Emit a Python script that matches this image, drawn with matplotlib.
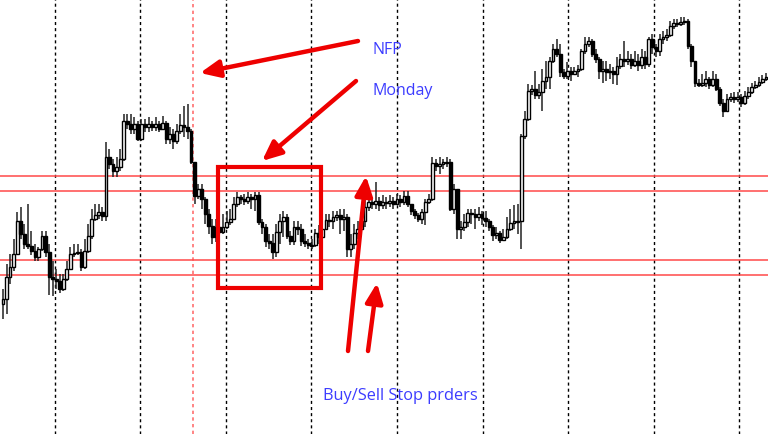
import matplotlib
matplotlib.use("Agg")
import matplotlib.pyplot as plt
import numpy as np
from matplotlib.patches import Rectangle, FancyArrowPatch

# ---- data (price levels expressed in chart pixel rows, smaller = higher price) ----
first_open = 305
close = [300,278,268,255,222,235,245,247,252,258,250,237,253,278,280,282,290,280,270,255,254,253,268,252,237,220,216,213,217,
         158,165,172,168,160,122,125,130,125,140,125,128,125,128,125,130,124,140,135,142,132,126,128,132,163,197,190,200,215,227,238,228,
         233,228,223,220,205,198,200,202,198,200,196,223,228,242,244,253,233,222,218,237,242,228,230,242,244,246,246,234,238,230,221,222,218,216,220,218,250,245,234,230,
         222,208,203,205,202,206,203,204,202,205,200,203,197,205,212,216,220,213,203,200,164,167,165,163,163,210,190,230,228,223,214,215,218,215,219,222,228,236,234,241,238,230,224,222,222,137,
         120,92,90,96,93,82,78,62,50,55,73,77,72,75,72,70,52,45,42,55,60,72,70,73,72,75,67,60,62,60,66,62,66,
         58,65,40,48,52,40,38,36,27,24,25,23,22,47,62,84,86,84,80,86,80,90,104,112,100,98,100,98,104,97,93,88,86,83,80,78]
high = [290,265,255,240,213,208,225,205,232,245,248,232,232,245,262,270,275,275,262,248,245,245,250,240,225,210,205,205,208,
        143,150,160,158,150,115,115,115,118,122,120,120,118,122,118,122,117,122,128,130,125,115,107,105,130,163,185,185,198,210,220,220,
        205,215,212,210,198,193,196,195,193,195,193,193,220,225,235,235,225,215,212,215,232,222,222,225,235,240,240,230,226,225,215,215,212,212,210,210,215,235,225,222,
        215,200,198,198,183,198,196,198,196,198,195,196,192,192,205,210,214,210,200,195,158,160,158,160,158,160,185,190,222,215,210,210,210,208,212,212,220,226,228,232,230,218,210,206,205,135,
        112,85,86,72,85,70,62,58,45,40,45,70,63,68,68,66,50,38,38,40,50,58,62,62,65,68,58,55,42,52,55,52,55,
        50,52,38,35,45,35,32,30,22,20,20,18,18,20,45,62,80,75,72,78,72,75,88,100,95,94,93,93,95,92,88,84,82,78,76,74]
low = [320,315,285,272,255,240,250,250,256,262,262,252,258,296,297,290,294,292,282,270,258,256,272,270,254,240,222,220,222,
       222,170,178,178,172,162,130,135,135,142,142,133,133,132,132,133,130,145,145,150,145,135,138,140,165,205,200,210,225,235,245,243,
       237,235,230,226,220,208,205,206,205,210,212,226,235,248,250,260,258,245,238,240,246,246,236,247,248,250,250,248,245,242,230,228,230,222,235,232,258,258,250,240,
       238,228,212,210,210,212,210,210,208,210,206,208,206,208,216,220,223,225,226,205,202,172,175,170,168,212,215,240,240,232,228,225,230,222,226,228,232,242,240,244,242,240,232,230,235,250,
       140,122,96,100,100,112,90,90,64,58,78,80,80,82,76,78,72,55,48,58,64,80,84,82,80,85,86,70,68,66,70,68,72,
       70,70,68,55,58,57,45,42,38,30,28,27,26,50,68,88,88,88,88,90,88,92,107,118,113,103,104,103,108,106,100,95,90,88,85,82]

levels = [177, 192, 261, 276]                      # horizontal red levels
separators = [55, 140, 226, 311, 397, 483, 568, 654, 739]  # day separators
nfp_line = 193
labels = ["NFP", "Monday", "Buy/Sell Stop prders"]

# ---- figure ----
fig = plt.figure(figsize=(7.68, 4.35), dpi=100)
ax = fig.add_axes([0, 0, 1, 1])
ax.set_xlim(0, 768)
ax.set_ylim(435, 0)
ax.axis("off")

n = len(close)
c = np.array(close, float)
o = np.concatenate([[first_open], c[:-1]])
h = np.minimum(np.array(high, float), np.minimum(o, c))
l = np.maximum(np.array(low, float), np.maximum(o, c))
x = 3 + np.arange(n) * (763 / (n - 1))

for sx in separators:
    ax.axvline(sx, color="black", lw=1.0, ls=(0, (2.2, 2.2)), zorder=1)
ax.axvline(nfp_line, color="#ff7070", lw=1.2, ls=(0, (2, 2)), zorder=1)
for lv in levels:
    ax.axhline(lv, color="#ff4a4a", lw=1.3, alpha=0.85, zorder=2)

ax.vlines(x, h, l, color="#222222", lw=1.1, zorder=3)
bull = c < o
top = np.minimum(o, c)
hgt = np.maximum(np.abs(c - o), 0.8)
ax.bar(x[bull], hgt[bull], bottom=top[bull], width=2.8, color="white",
       edgecolor="black", linewidth=1.0, zorder=4)
ax.bar(x[~bull], hgt[~bull], bottom=top[~bull], width=2.8, color="black",
       edgecolor="black", linewidth=1.0, zorder=4)

ax.add_patch(Rectangle((218, 168), 103, 121, fill=False, edgecolor="#ee0000",
                       lw=3.0, zorder=6))

def arrow(tail, head):
    ax.add_patch(FancyArrowPatch(tail, head, arrowstyle="-|>,head_length=0.9,head_width=0.4",
                                 mutation_scale=13, color="#ee0000", lw=3.2,
                                 shrinkA=0, shrinkB=0, zorder=7))

arrow((358, 42), (200, 74))
arrow((356, 82), (262, 162))
arrow((348, 352), (366, 177))
arrow((368, 352), (377, 284))

tc = "#3c3cff"
ax.text(373, 50, labels[0], color=tc, fontsize=11.5, family="Open Sans", va="center", ha="left")
ax.text(373, 91, labels[1], color=tc, fontsize=11.5, family="Open Sans", va="center", ha="left")
ax.text(323, 396, labels[2], color=tc, fontsize=11.8, family="Open Sans", va="center", ha="left")

fig.savefig("out.png", dpi=100, facecolor="white")
